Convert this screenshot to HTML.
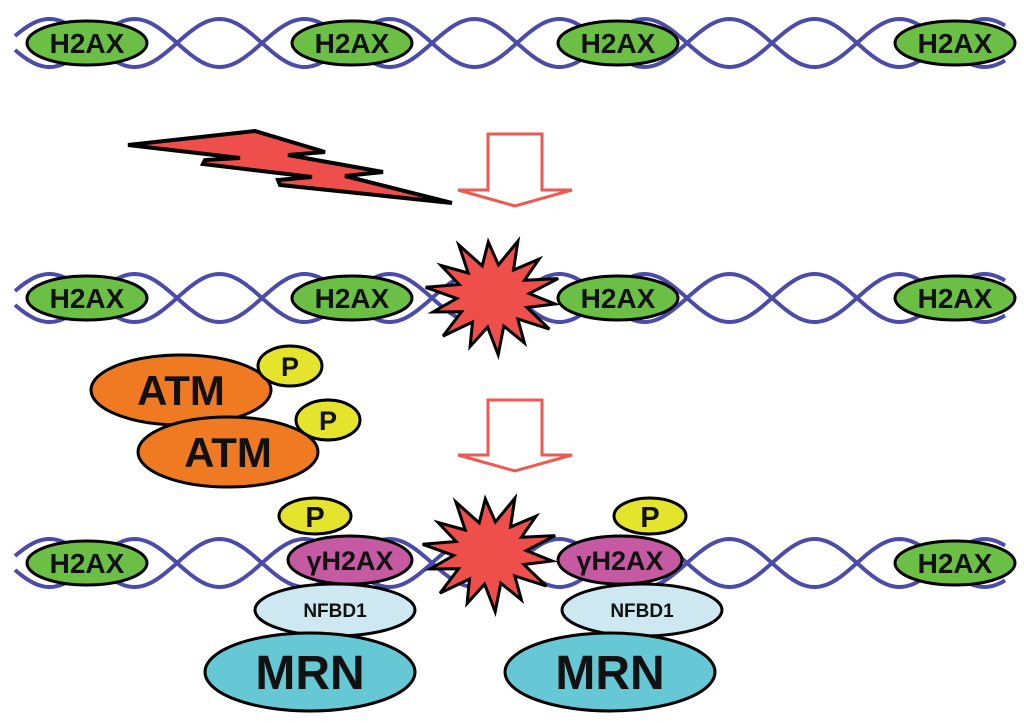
<!DOCTYPE html>
<html><head><meta charset="utf-8"><style>
html,body{margin:0;padding:0;background:#fff;}
svg{display:block;}
text{font-family:"Liberation Sans",sans-serif;font-weight:bold;fill:#111;text-anchor:middle;}
</style></head><body>
<svg id="s" width="1024" height="723" viewBox="0 0 1024 723" xmlns="http://www.w3.org/2000/svg">
<g id="helix" fill="none" stroke="#4b4bab" stroke-width="4"></g>
<polygon points="128,145 255,131 325,152 288,155 383,172 345,176 452,203 280,185 278,180 312,177 203,164 205,160 240,158" fill="#ee4f4a" stroke="#000" stroke-width="4" stroke-linejoin="miter"/>
<polygon points="488,134 542,134 542,190 572,190 515,206 458,190 488,190" fill="#fff" stroke="#ee5a52" stroke-width="3"/>
<polygon points="488,400 542,400 542,455 572,455 515,471 458,455 488,455" fill="#fff" stroke="#ee5a52" stroke-width="3"/>
<g id="h2ax" stroke="#000" stroke-width="3"></g>
<g id="stars" fill="#ee4f4a" stroke="#000" stroke-width="3"></g>
<g stroke="#000" stroke-width="3">
<ellipse cx="181" cy="390" rx="90" ry="35" fill="#f07a22"/>
<ellipse cx="290" cy="366" rx="32" ry="20" fill="#e4e42c"/>
<ellipse cx="228" cy="452" rx="90" ry="35" fill="#f07a22"/>
<ellipse cx="328" cy="420" rx="32" ry="20" fill="#e4e42c"/>
<ellipse cx="315" cy="516" rx="36" ry="18" fill="#e4e42c"/>
<ellipse cx="650" cy="516" rx="36" ry="18" fill="#e4e42c"/>
<ellipse cx="350" cy="560" rx="62" ry="24" fill="#c55aa3"/>
<ellipse cx="620" cy="560" rx="62" ry="24" fill="#c55aa3"/>
<ellipse cx="335" cy="610" rx="80" ry="26" fill="#cde8f0"/>
<ellipse cx="642" cy="610" rx="80" ry="26" fill="#cde8f0"/>
<ellipse cx="310" cy="672" rx="105" ry="39" fill="#66c8d4"/>
<ellipse cx="610" cy="672" rx="105" ry="39" fill="#66c8d4"/>
</g>
<text x="181" y="405" font-size="42">ATM</text>
<text x="228" y="467" font-size="42">ATM</text>
<text x="290" y="376" font-size="27">P</text>
<text x="328" y="430" font-size="27">P</text>
<text x="315" y="527" font-size="29">P</text>
<text x="650" y="527" font-size="29">P</text>
<text x="350" y="570" font-size="27">γH2AX</text>
<text x="620" y="570" font-size="27">γH2AX</text>
<text x="335" y="617" font-size="19" font-weight="normal">NFBD1</text>
<text x="642" y="617" font-size="19" font-weight="normal">NFBD1</text>
<text x="310" y="689" font-size="48">MRN</text>
<text x="610" y="689" font-size="48">MRN</text>
<g id="h2t"></g>
</svg>
<script>
var NS="http://www.w3.org/2000/svg";
function el(p,t,a){var e=document.createElementNS(NS,t);for(var k in a)e.setAttribute(k,a[k]);document.getElementById(p).appendChild(e);return e;}
var rows=[43,298,563];
rows.forEach(function(cy){
 [0,Math.PI].forEach(function(ph){
  var d="";
  for(var x=15;x<=1005;x+=3){var y=cy+24*Math.sin((x-177)*Math.PI/85+ph);d+=(x==15?"M":"L")+x+","+y.toFixed(1);}
  el("helix","path",{d:d});
 });
});
var nodes=[[87,43],[352,43],[618,43],[955,43],[87,298],[352,298],[618,298],[955,298],[87,563],[955,563]];
nodes.forEach(function(n){
 el("h2ax","ellipse",{cx:n[0],cy:n[1],rx:60,ry:22,fill:"#6cbf45"});
 var t=el("h2t","text",{x:n[0],y:n[1]+10,"font-size":28});t.textContent="H2AX";
});
function star(cx,cy){
 var d="",n=14;
 for(var i=0;i<2*n;i++){var r=(i%2?36:62)*(i%4==0?1:0.92);var a=i*Math.PI/n-0.3;
  var x=cx+r*Math.cos(a)*1.1,y=cy+r*Math.sin(a)*0.95;d+=(i?"L":"M")+x.toFixed(1)+","+y.toFixed(1);}
 el("stars","path",{d:d+"Z"});
}
star(493,296);star(490,553);
</script>
</body></html>
